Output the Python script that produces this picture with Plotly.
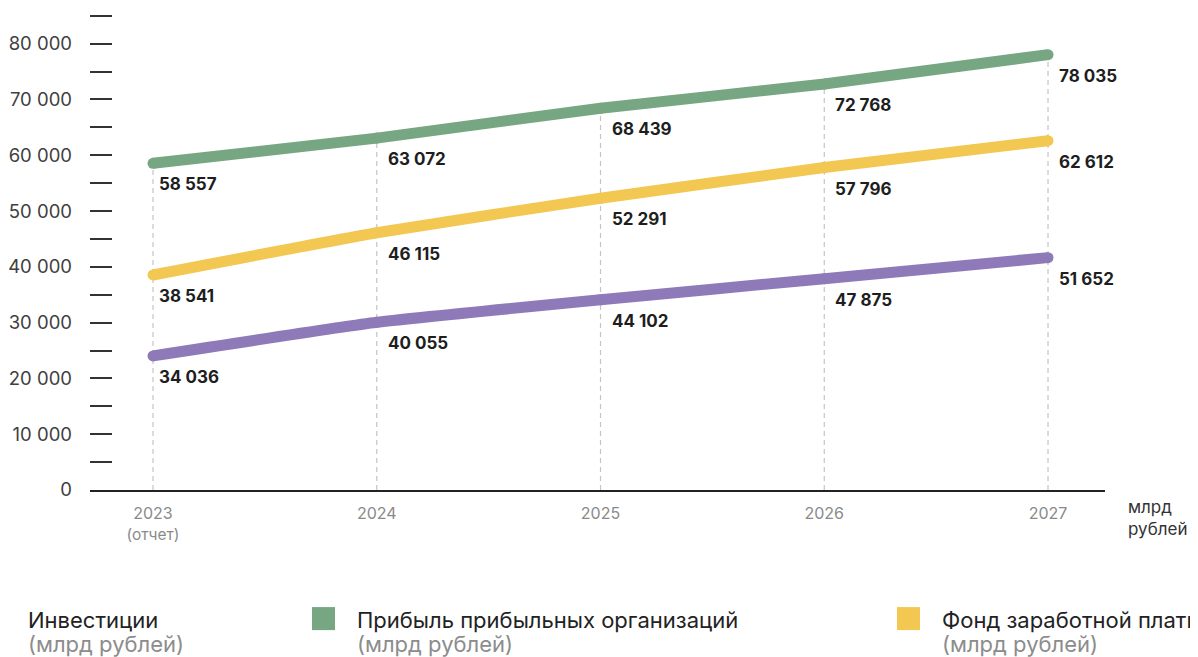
import plotly.graph_objects as go

# data
years = ["2023", "2024", "2025", "2026", "2027"]
year_labels = ["2023<br><span style='font-size:15.5px'>(отчет)</span>", "2024", "2025", "2026", "2027"]

series_names = ["Инвестиции", "Прибыль прибыльных организаций", "Фонд заработной платы"]
series_colors = ["#8e7ab9", "#76a682", "#f2c852"]

# values printed on the chart
invest_labels = [34036, 40055, 44102, 47875, 51652]
profit_labels = [58557, 63072, 68439, 72768, 78035]
wages_labels = [38541, 46115, 52291, 57796, 62612]

# where the lines are actually drawn
invest_plot = [24036, 30055, 34102, 37875, 41652]
profit_plot = [58557, 63072, 68439, 72768, 78035]
wages_plot = [38541, 46115, 52291, 57796, 62612]

plot_values = [invest_plot, profit_plot, wages_plot]
label_values = [invest_labels, profit_labels, wages_labels]

FONT = "Inter"
Y_TOP = 85500

# the page body has an 8px margin, so positions below are page pixels minus that
OFF = 8
W, H = 1198 - OFF, 657 - OFF
L, R = 90 - OFF, 1105 - OFF
B = 490 - OFF
T = B - (490 - 44) / 80000 * Y_TOP


def px_x(p):
    return (p - OFF - L) / (R - L)


def px_y(p):
    return (B - (p - OFF)) / (B - T)


def fmt(v):
    return f"{v:,}".replace(",", " ")


fig = go.Figure()

# dashed guides from the axis up to the top line
tops = [max(vals) for vals in zip(*plot_values)]
for yr, top in zip(years, tops):
    fig.add_trace(go.Scatter(x=[yr, yr], y=[0, top], mode="lines",
                             line=dict(color="#c4c4c4", width=1.2, dash="5px,4px"),
                             hoverinfo="skip", showlegend=False))

for name, color, vals in zip(series_names, series_colors, plot_values):
    fig.add_trace(go.Scatter(x=years, y=vals, mode="lines+markers", name=name,
                             line=dict(color=color, width=11, shape="spline", smoothing=0.4),
                             marker=dict(color=color, size=11),
                             showlegend=False))

annotations = []
for vals, labels in zip(plot_values, label_values):
    for i, (v, lab) in enumerate(zip(vals, labels)):
        annotations.append(dict(x=i, y=v, text=fmt(lab), showarrow=False,
                                xanchor="left", yanchor="middle",
                                xshift=4 if i == 0 else 9, yshift=-21,
                                font=dict(family=FONT, size=17, color="#1e1e1e", weight="bold")))

annotations.append(dict(x=px_x(1126), y=px_y(495), xref="paper", yref="paper",
                        text="млрд<br>рублей", showarrow=False, xanchor="left", yanchor="top",
                        align="left", font=dict(family=FONT, size=17, color="#333333")))

# legend built by hand
legend_sq_x = [-18, 312, 897]
legend_text_x = [26, 355, 940]
shapes = []
for name, color, sx, tx in zip(series_names, series_colors, legend_sq_x, legend_text_x):
    shapes.append(dict(type="rect", xref="paper", yref="paper",
                       x0=px_x(sx), x1=px_x(sx + 23), y0=px_y(630), y1=px_y(607),
                       fillcolor=color, line=dict(width=0)))
    annotations.append(dict(x=px_x(tx), y=px_y(620), xref="paper", yref="paper",
                            text=name, showarrow=False, xanchor="left", yanchor="middle",
                            font=dict(family=FONT, size=22, color="#222222")))
    annotations.append(dict(x=px_x(tx), y=px_y(644), xref="paper", yref="paper",
                            text="(млрд рублей)", showarrow=False, xanchor="left", yanchor="middle",
                            font=dict(family=FONT, size=22, color="#8c8c8c")))

fig.update_layout(
    width=W, height=H,
    margin=dict(l=L, r=W - R, t=T, b=H - B, pad=0),
    paper_bgcolor="white", plot_bgcolor="white",
    separators=". ",
    showlegend=False,
    annotations=annotations,
    shapes=shapes,
    font=dict(family=FONT),
)

fig.update_xaxes(
    type="category", range=[-0.2816, 4.2547], automargin=False,
    tickvals=years, ticktext=year_labels,
    showline=True, linecolor="#222222", linewidth=1.5,
    showgrid=False, zeroline=False, ticks="",
    ticklabelstandoff=8,
    tickfont=dict(family=FONT, size=16, color="#8a8a8a"),
)

fig.update_yaxes(
    range=[0, Y_TOP], dtick=10000, tickformat=",d", automargin=False,
    showline=False, showgrid=False, zeroline=False,
    ticks="inside", ticklen=22, tickwidth=1.5, tickcolor="#333333",
    minor=dict(dtick=5000, ticks="inside", ticklen=22, tickwidth=1.5, tickcolor="#333333"),
    ticklabelstandoff=17,
    tickfont=dict(family=FONT, size=18.5, color="#404040"),
)

fig.write_html("out.html")
